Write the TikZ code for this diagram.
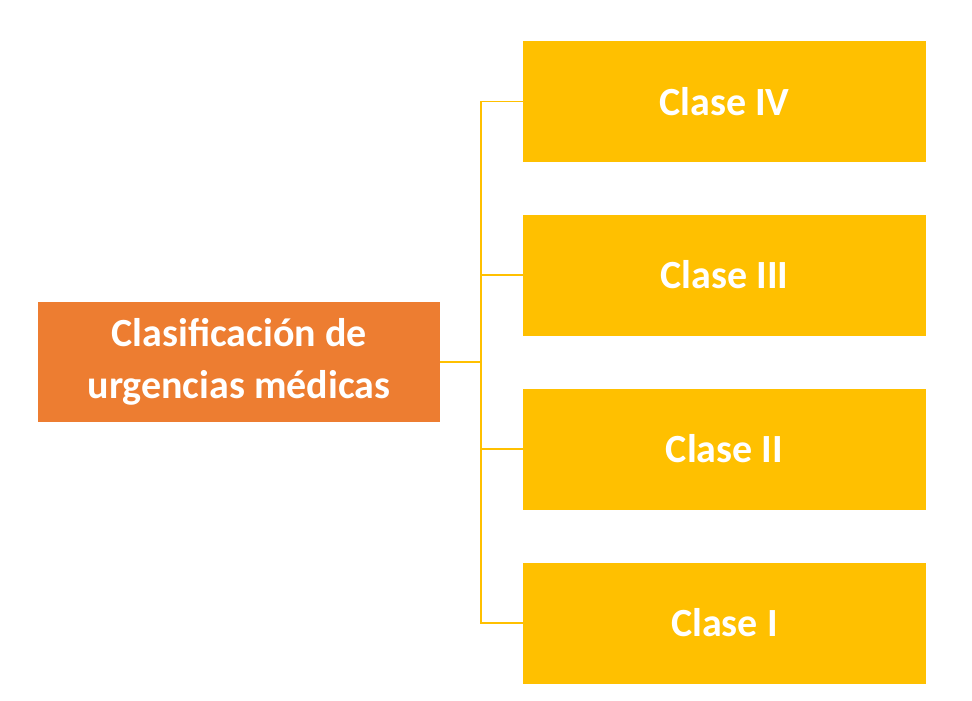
\documentclass[tikz,border=0pt]{standalone}
\usepackage{fontspec}
\setmainfont{Carlito}
\definecolor{orng}{HTML}{ED7D31}
\definecolor{yel}{HTML}{FFC000}
\begin{document}
\begin{tikzpicture}[x=1pt,y=-1pt,
  box/.style={inner sep=0pt,text=white,font=\bfseries\fontsize{40}{52}\selectfont,align=center},
  conn/.style={draw=yel,line width=1.5pt}]
\useasboundingbox (0,0) rectangle (972,701);
\fill[orng] (38,302) rectangle (440,422);
\node[box] (root) at (239,362) {Clasificación de\\urgencias médicas};
\coordinate (rootR) at (440,362);
\foreach \n/\t/\y in {c4/Clase IV/101.5,c3/Clase III/275,c2/Clase II/449,c1/Clase I/623}{
  \fill[yel] (523,\y-60.5) rectangle (926,\y+60.5);
  \node[box] (\n) at (724.5,\y) {\t};
  \coordinate (\n L) at (523,\y);
}
\coordinate (j) at (481,362);
\draw[conn] (rootR) -- (j);
\draw[conn] (c4L) -| (j) |- (c1L);
\draw[conn] (c3L) -- (c3L -| j);
\draw[conn] (c2L) -- (c2L -| j);
\end{tikzpicture}
\end{document}
